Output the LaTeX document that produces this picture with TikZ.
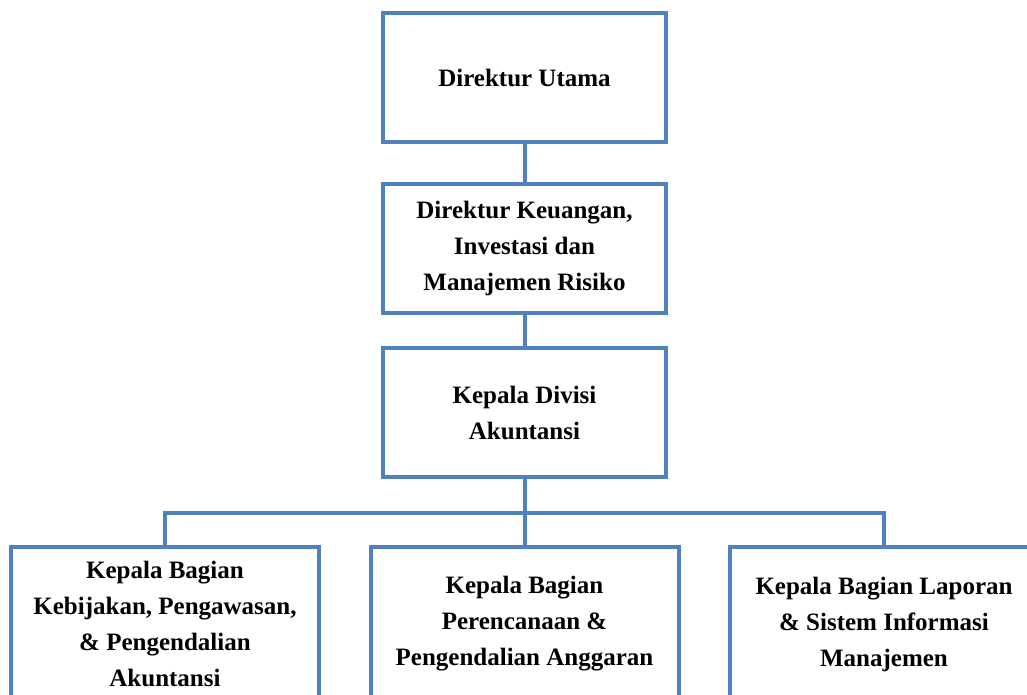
\documentclass[tikz,border=0pt]{standalone}
\usepackage{fontspec}
\setmainfont{Liberation Serif}
\usepackage{xcolor}
\definecolor{orgblue}{RGB}{79,129,189}

\begin{document}
\begin{tikzpicture}[x=1pt,y=-1pt,line width=4pt,
  unit/.style={draw=orgblue,fill=white,align=center,inner sep=0pt,
    font=\fontsize{25}{36}\selectfont\bfseries},
  upper/.style={unit,minimum width=283pt,minimum height=129pt},
  lower/.style={unit,minimum width=308pt,minimum height=154pt},
  link/.style={draw=orgblue,line width=4pt}]
\useasboundingbox (0,0) rectangle (1027,695);
\clip (0,0) rectangle (1027,695);

\node[upper] (dirut) at (524.5,78) {Direktur Utama};
\node[upper] (dirkeu) at (524.5,248.5) {Direktur Keuangan,\\Investasi dan\\Manajemen Risiko};
\node[upper] (kadiv) at (524.5,412.5) {Kepala Divisi\\Akuntansi};
\coordinate (bus) at (524.5,513);

\foreach [count=\i] \x/\t in {165/{Kepala Bagian\\Kebijakan, Pengawasan,\\\& Pengendalian\\Akuntansi}, 524.5/{Kepala Bagian\\Perencanaan \&\\Pengendalian Anggaran}, 884/{Kepala Bagian Laporan\\\& Sistem Informasi\\Manajemen}}
\node[lower] (kabag\i) at (\x,624) {\t};

\draw[link] (dirut) -- (dirkeu);
\draw[link] (dirkeu) -- (kadiv);
\draw[link] (kadiv) -- (bus);
\draw[link] (bus) -| (kabag1);
\draw[link] (bus) -- (kabag2);
\draw[link] (bus) -| (kabag3);

\end{tikzpicture}
\end{document}
